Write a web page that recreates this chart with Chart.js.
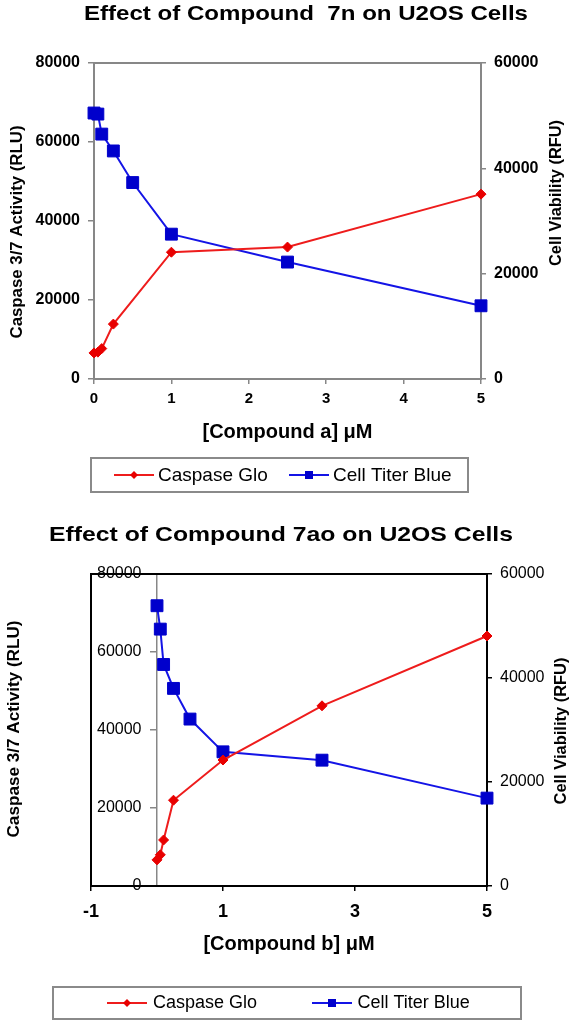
<!DOCTYPE html>
<html>
<head>
<meta charset="utf-8">
<script src="https://cdn.jsdelivr.net/npm/chart.js@4.4.1/dist/chart.umd.min.js"></script>
<style>
  html, body { margin: 0; padding: 0; background: #fff; overflow: hidden; width: 575px; height: 1020px; }
  canvas { position: absolute; left: 0; }
  #c1 { top: 0; }
  #c2 { top: 510px; }
</style>
</head>
<body>
<canvas id="c1" width="575" height="510"></canvas>
<canvas id="c2" width="575" height="510"></canvas>
<script>
// ---------------- data ----------------
const seriesNames = ['Caspase Glo', 'Cell Titer Blue'];

// Chart A (compound 7n)
const dosesCaspaseA   = [0, 0.05, 0.1, 0.25, 1, 2.5, 5];
const caspaseA        = [6600, 6800, 7700, 13900, 32100, 33400, 46800];
const dosesViabilityA = [0, 0.05, 0.1, 0.25, 0.5, 1, 2.5, 5];
const viabilityA      = [50500, 50300, 46500, 43300, 37300, 27500, 22200, 13900];
const xTicksA      = [0, 1, 2, 3, 4, 5];
const yLeftTicksA  = [0, 20000, 40000, 60000, 80000];
const yRightTicksA = [0, 20000, 40000, 60000];

// Chart B (compound 7ao)
const dosesCaspaseB   = [0, 0.05, 0.1, 0.25, 1, 2.5, 5];
const caspaseB        = [6700, 8000, 11800, 22000, 32300, 46200, 64100];
const dosesViabilityB = [0, 0.05, 0.1, 0.25, 0.5, 1, 2.5, 5];
const viabilityB      = [53900, 49400, 42600, 38000, 32100, 25800, 24200, 16900];
const xTicksB      = [-1, 1, 3, 5];
const yLeftTicksB  = [0, 20000, 40000, 60000, 80000];
const yRightTicksB = [0, 20000, 40000, 60000];

const titleA = 'Effect of Compound  7n on U2OS Cells';
const titleB = 'Effect of Compound 7ao on U2OS Cells';
const xTitleA = '[Compound a] μM';
const xTitleB = '[Compound b] μM';
const yLeftTitle = 'Caspase 3/7 Activity (RLU)';
const yRightTitle = 'Cell Viability (RFU)';

// ---------------- styles ----------------
const FONT = '"Liberation Sans", Arial, Helvetica, sans-serif';
Chart.defaults.font.family = FONT;
Chart.defaults.color = '#000';
const RED_LINE = '#ee1c1c', RED_MARK = '#e80000';
const BLUE_LINE = '#1414e6', BLUE_MARK = '#0000cc';
const GRAY = '#878787';

const pts = (xs, ys) => xs.map((x, i) => ({ x: x, y: ys[i] }));
const setTicks = arr => scale => { scale.ticks = arr.map(v => ({ value: v })); };
const lbl = v => String(v);

// decorations (titles, frame, legend box) per canvas
const DECOR = {
  c1: {
    frame: { color: GRAY, width: 2 },
    texts: [
      { text: titleA, x: 306, y: 14, size: 21, weight: 'bold', width: 444 },
      { text: yLeftTitle, x: 18, y: 232, size: 16, weight: 'bold', width: 213, rot: -Math.PI / 2 },
      { text: yRightTitle, x: 557, y: 193, size: 16, weight: 'bold', width: 146, rot: -Math.PI / 2 }
    ],
    legend: { box: [91, 458, 468, 492], cy: 475, size: 19,
      items: [{ x: 114, tx: 158, r: 4 }, { x: 289, tx: 333, r: 4 }] }
  },
  c2: {
    frame: { color: '#000', width: 2 },
    texts: [
      { text: titleB, x: 281, y: 25, size: 21, weight: 'bold', width: 464 },
      { text: yLeftTitle, x: 15, y: 219, size: 16, weight: 'bold', width: 217, rot: -Math.PI / 2 },
      { text: yRightTitle, x: 562, y: 221, size: 16, weight: 'bold', width: 147, rot: -Math.PI / 2 }
    ],
    legend: { box: [53, 477, 521, 509], cy: 493, size: 18,
      items: [{ x: 107, tx: 153, r: 4 }, { x: 312, tx: 357.5, r: 4 }] }
  }
};

function drawText(ctx, t) {
  ctx.save();
  ctx.font = (t.weight || 'normal') + ' ' + t.size + 'px ' + FONT;
  ctx.fillStyle = '#000';
  ctx.textAlign = 'center';
  ctx.textBaseline = 'middle';
  ctx.translate(t.x, t.y);
  if (t.rot) ctx.rotate(t.rot);
  if (t.width) {
    const w = ctx.measureText(t.text).width;
    ctx.scale(t.width / w, 1);
  }
  ctx.fillText(t.text, 0, 0);
  ctx.restore();
}

const decorPlugin = {
  id: 'decor',
  beforeDatasetsDraw(chart) {
    const d = DECOR[chart.canvas.id];
    if (!d || !d.frame) return;
    const a = chart.chartArea, ctx = chart.ctx;
    ctx.save();
    ctx.strokeStyle = d.frame.color;
    ctx.lineWidth = d.frame.width;
    ctx.strokeRect(a.left, a.top, a.right - a.left, a.bottom - a.top);
    ctx.restore();
  },
  afterDraw(chart) {
    const d = DECOR[chart.canvas.id];
    if (!d) return;
    const ctx = chart.ctx;
    d.texts.forEach(t => drawText(ctx, t));
    const L = d.legend;
    ctx.save();
    ctx.strokeStyle = '#8a8a8a';
    ctx.lineWidth = 2;
    ctx.strokeRect(L.box[0], L.box[1], L.box[2] - L.box[0], L.box[3] - L.box[1]);
    chart.data.datasets.forEach((ds, i) => {
      const it = L.items[i];
      const cy = L.cy;
      ctx.strokeStyle = ds.borderColor;
      ctx.lineWidth = 2;
      ctx.beginPath();
      ctx.moveTo(it.x, cy);
      ctx.lineTo(it.x + 40, cy);
      ctx.stroke();
      const cx = it.x + 20;
      ctx.fillStyle = ds.pointBackgroundColor;
      ctx.beginPath();
      if (ds.pointStyle === 'rectRot') {
        const r = it.r;
        ctx.moveTo(cx, cy - r); ctx.lineTo(cx + r, cy); ctx.lineTo(cx, cy + r); ctx.lineTo(cx - r, cy);
        ctx.closePath();
      } else {
        ctx.rect(cx - it.r, cy - it.r, it.r * 2, it.r * 2);
      }
      ctx.fill();
      ctx.fillStyle = '#000';
      ctx.font = 'normal ' + L.size + 'px ' + FONT;
      ctx.textAlign = 'left';
      ctx.textBaseline = 'middle';
      ctx.fillText(ds.label, it.tx, cy + 0.5);
    });
    ctx.restore();
  }
};

function dataset(label, data, axis, style) {
  const red = style === 'red';
  return {
    label: label,
    data: data,
    yAxisID: axis,
    borderColor: red ? RED_LINE : BLUE_LINE,
    backgroundColor: red ? RED_MARK : BLUE_MARK,
    pointBackgroundColor: red ? RED_MARK : BLUE_MARK,
    pointBorderColor: red ? RED_MARK : BLUE_MARK,
    borderWidth: 2,
    pointBorderWidth: 1,
    pointStyle: red ? 'rectRot' : 'rect',
    pointRadius: red ? 5 : 8.4,
    tension: 0,
    fill: false,
    clip: false
  };
}

const common = {
  responsive: false,
  animation: false,
  events: [],
  plugins: { legend: { display: false }, title: { display: false }, tooltip: { enabled: false } }
};

// ---------------- chart A ----------------
new Chart(document.getElementById('c1'), {
  type: 'line',
  data: {
    datasets: [
      dataset(seriesNames[0], pts(dosesCaspaseA, caspaseA), 'y', 'red'),
      dataset(seriesNames[1], pts(dosesViabilityA, viabilityA), 'y2', 'blue')
    ]
  },
  options: Object.assign({}, common, {
    layout: { padding: { top: 63, bottom: 61, left: 0, right: 0 } },
    scales: {
      x: {
        type: 'linear', min: 0, max: 5,
        afterBuildTicks: setTicks(xTicksA),
        ticks: { font: { size: 15, weight: 'bold' }, color: '#000', padding: 6, callback: lbl, maxRotation: 0, autoSkip: false },
        grid: { drawOnChartArea: false, tickLength: 5, color: GRAY, lineWidth: 1.5 },
        border: { color: GRAY, width: 2 },
        title: { display: true, text: xTitleA, font: { size: 20, weight: 'bold' }, color: '#000', padding: { top: 0, bottom: 5 } },
        afterFit: s => { s.height = 70; }
      },
      y: {
        type: 'linear', position: 'left', min: 0, max: 80000,
        afterBuildTicks: setTicks(yLeftTicksA),
        ticks: { font: { size: 16, weight: 'bold' }, color: '#000', padding: 8, callback: lbl },
        grid: { drawOnChartArea: false, tickLength: 6, color: GRAY, lineWidth: 1.5 },
        border: { color: GRAY, width: 2 },
        afterFit: s => { s.width = 94; }
      },
      y2: {
        type: 'linear', position: 'right', min: 0, max: 60000,
        afterBuildTicks: setTicks(yRightTicksA),
        ticks: { font: { size: 16, weight: 'bold' }, color: '#000', padding: 8, callback: lbl },
        grid: { drawOnChartArea: false, tickLength: 5, color: GRAY, lineWidth: 1.5 },
        border: { color: GRAY, width: 2 },
        afterFit: s => { s.width = 94; }
      }
    }
  }),
  plugins: [decorPlugin]
});

// ---------------- chart B ----------------
new Chart(document.getElementById('c2'), {
  type: 'line',
  data: {
    datasets: [
      dataset(seriesNames[0], pts(dosesCaspaseB, caspaseB), 'y', 'red'),
      dataset(seriesNames[1], pts(dosesViabilityB, viabilityB), 'y2', 'blue')
    ]
  },
  options: Object.assign({}, common, {
    layout: { padding: { top: 64, bottom: 64, left: 0, right: 0 } },
    scales: {
      x: {
        type: 'linear', min: -1, max: 5,
        afterBuildTicks: setTicks(xTicksB),
        ticks: { font: { size: 18, weight: 'bold' }, color: '#000', padding: 10, callback: lbl, maxRotation: 0, autoSkip: false },
        grid: { drawOnChartArea: false, tickLength: 5, color: '#000', lineWidth: 1.5 },
        border: { color: '#000', width: 2 },
        title: { display: true, text: xTitleB, font: { size: 20, weight: 'bold' }, color: '#000', padding: { top: 0, bottom: 0 } },
        afterFit: s => { s.height = 70; }
      },
      // left value axis: labels drawn inside the frame, right-aligned before the x = 0 line
      y: {
        type: 'linear', position: 'left', min: 0, max: 80000,
        afterBuildTicks: setTicks(yLeftTicksB),
        ticks: { font: { size: 16 }, color: '#000', padding: 6, mirror: true, crossAlign: 'far', callback: lbl },
        grid: { display: false, drawTicks: false },
        border: { display: false },
        afterFit: s => { s.width = 91; }
      },
      // the same axis line drawn where x = 0
      yZero: {
        type: 'linear', position: { x: 0 }, min: 0, max: 80000,
        afterBuildTicks: setTicks(yLeftTicksB),
        ticks: { display: false },
        grid: { drawOnChartArea: false, tickLength: 6, color: GRAY, lineWidth: 1.5 },
        border: { color: GRAY, width: 1.5 }
      },
      y2: {
        type: 'linear', position: 'right', min: 0, max: 60000,
        afterBuildTicks: setTicks(yRightTicksB),
        ticks: { font: { size: 16 }, color: '#000', padding: 8, callback: lbl },
        grid: { drawOnChartArea: false, tickLength: 5, color: '#000', lineWidth: 1.5 },
        border: { color: '#000', width: 2 },
        afterFit: s => { s.width = 88; }
      }
    }
  }),
  plugins: [decorPlugin]
});
</script>
</body>
</html>
